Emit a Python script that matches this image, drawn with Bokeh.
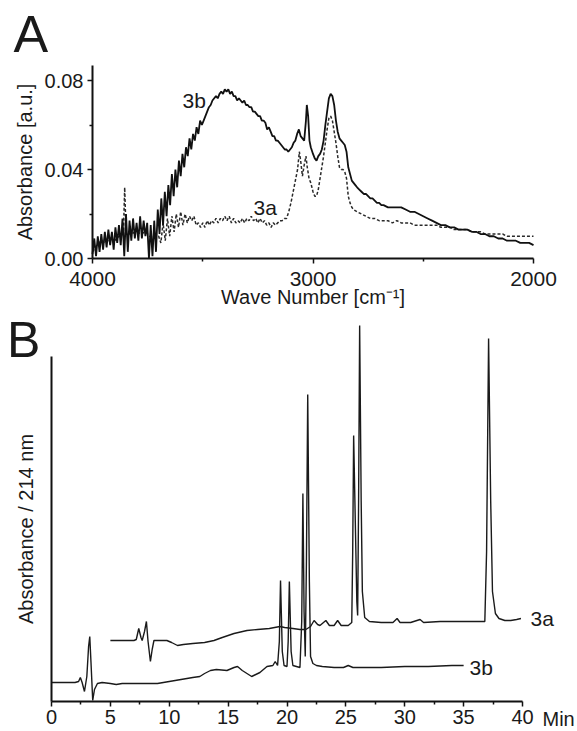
from bokeh.plotting import figure
from bokeh.models import Range1d, FixedTicker, PrintfTickFormatter, Label
from bokeh.layouts import column
from bokeh.embed import file_html
from bokeh.resources import INLINE

FONT = "Liberation Sans"

# ---------------- Panel A: IR spectra ----------------
ir_wn_3b = [4000, 3992, 3984, 3976, 3968, 3960, 3952, 3944, 3936, 3928, 3920, 3912, 3904, 3896,
            3888, 3880, 3872, 3864, 3856, 3848, 3840, 3832, 3824, 3816, 3808, 3800, 3792, 3784,
            3776, 3768, 3760, 3752, 3744, 3736, 3728, 3720, 3712, 3704, 3696, 3688, 3680, 3672,
            3664, 3656, 3648, 3640, 3632, 3624, 3616, 3608, 3600, 3592, 3584, 3576, 3568, 3560,
            3552, 3544, 3536, 3528, 3520, 3512, 3504, 3496, 3488, 3480, 3472, 3464, 3456, 3448,
            3440, 3432, 3424, 3416, 3408, 3400, 3392, 3384, 3376, 3368, 3360, 3352, 3344, 3336,
            3328, 3320, 3312, 3304, 3296, 3288, 3280, 3272, 3264, 3256, 3248, 3240, 3232, 3224,
            3216, 3208, 3200, 3192, 3184, 3176, 3168, 3160, 3152, 3144, 3136, 3128, 3120, 3112,
            3104, 3096, 3088, 3080, 3072, 3064, 3056, 3048, 3040, 3032, 3028, 3022, 3016, 3010,
            3000, 2992, 2984, 2976, 2968, 2960, 2952, 2944, 2936, 2928, 2920, 2912, 2904, 2896,
            2888, 2880, 2872, 2864, 2856, 2848, 2840, 2832, 2824, 2816, 2808, 2800, 2790, 2780,
            2770, 2760, 2750, 2740, 2730, 2720, 2710, 2700, 2690, 2680, 2660, 2640, 2620, 2600,
            2580, 2560, 2540, 2520, 2500, 2480, 2460, 2440, 2420, 2400, 2380, 2360, 2340, 2320,
            2300, 2280, 2260, 2240, 2220, 2200, 2180, 2160, 2140, 2120, 2100, 2080, 2060, 2040,
            2020, 2000]
ir_abs_3b = [0.002, 0.009, 0.001, 0.010, 0.003, 0.011, 0.004, 0.012, 0.005, 0.013, 0.006, 0.012,
             0.004, 0.014, 0.007, 0.015, 0.006, 0.018, 0.001, 0.020, 0.003, 0.017, 0.008, 0.018,
             0.009, 0.016, 0.008, 0.019, 0.009, 0.017, 0.010, 0.016, 0.000, 0.015, 0.001, 0.017,
             0.003, 0.022, 0.011, 0.027, 0.015, 0.030, 0.019, 0.033, 0.024, 0.038, 0.028, 0.040,
             0.032, 0.044, 0.037, 0.047, 0.041, 0.050, 0.046, 0.054, 0.049, 0.056, 0.053, 0.059,
             0.056, 0.062, 0.060, 0.062, 0.064, 0.066, 0.068, 0.069, 0.071, 0.072, 0.073, 0.072,
             0.074, 0.075, 0.074, 0.076, 0.075, 0.076, 0.074, 0.075, 0.073, 0.073, 0.071, 0.072,
             0.071, 0.070, 0.071, 0.069, 0.069, 0.068, 0.068, 0.066, 0.066, 0.065, 0.064, 0.064,
             0.062, 0.062, 0.061, 0.058, 0.059, 0.057, 0.055, 0.055, 0.053, 0.053, 0.052, 0.051,
             0.050, 0.049, 0.049, 0.048, 0.049, 0.050, 0.052, 0.053, 0.056, 0.058, 0.055, 0.054,
             0.053, 0.062, 0.069, 0.064, 0.053, 0.050, 0.047, 0.045, 0.044, 0.046, 0.047, 0.049,
             0.053, 0.060, 0.066, 0.072, 0.074, 0.073, 0.069, 0.062, 0.057, 0.054, 0.053, 0.052,
             0.051, 0.048, 0.041, 0.038, 0.035, 0.034, 0.033, 0.032, 0.031, 0.030, 0.029, 0.029,
             0.028, 0.027, 0.027, 0.026, 0.025, 0.025, 0.024, 0.024, 0.023, 0.023, 0.023, 0.023,
             0.022, 0.021, 0.021, 0.020, 0.019, 0.018, 0.017, 0.016, 0.015, 0.015, 0.014, 0.014,
             0.013, 0.013, 0.013, 0.012, 0.012, 0.011, 0.011, 0.010, 0.010, 0.009, 0.009, 0.008,
             0.008, 0.008, 0.007, 0.007, 0.007, 0.006]

ir_wn_3a = [4000, 3980, 3960, 3940, 3920, 3900, 3880, 3860, 3854, 3848, 3830, 3800, 3780, 3760,
            3740, 3720, 3700, 3690, 3680, 3670, 3660, 3650, 3640, 3630, 3620, 3610, 3600, 3590,
            3580, 3570, 3560, 3550, 3540, 3530, 3520, 3510, 3500, 3490, 3480, 3470, 3460, 3450,
            3440, 3430, 3420, 3410, 3400, 3390, 3380, 3370, 3360, 3350, 3340, 3330, 3320, 3310,
            3300, 3290, 3280, 3270, 3260, 3250, 3240, 3230, 3220, 3210, 3200, 3190, 3180, 3170,
            3160, 3150, 3140, 3130, 3120, 3110, 3100, 3090, 3080, 3070, 3062, 3056, 3048, 3040,
            3032, 3026, 3018, 3010, 3000, 2992, 2984, 2976, 2968, 2960, 2952, 2944, 2936, 2928,
            2920, 2912, 2904, 2896, 2888, 2880, 2872, 2864, 2856, 2848, 2840, 2832, 2824, 2816,
            2800, 2780, 2760, 2740, 2720, 2700, 2680, 2660, 2640, 2620, 2600, 2580, 2560, 2540,
            2520, 2500, 2480, 2460, 2440, 2420, 2400, 2380, 2360, 2340, 2320, 2300, 2280, 2260,
            2240, 2220, 2200, 2180, 2160, 2140, 2120, 2100, 2080, 2060, 2040, 2020, 2000]
ir_abs_3a = [0.003, 0.006, 0.008, 0.007, 0.009, 0.008, 0.010, 0.011, 0.032, 0.012, 0.011, 0.012,
             0.011, 0.012, 0.010, 0.009, 0.010, 0.007, 0.016, 0.008, 0.018, 0.010, 0.019, 0.012,
             0.020, 0.014, 0.021, 0.015, 0.020, 0.016, 0.019, 0.017, 0.019, 0.015, 0.016, 0.014,
             0.016, 0.014, 0.017, 0.015, 0.017, 0.016, 0.018, 0.016, 0.018, 0.017, 0.019, 0.017,
             0.019, 0.016, 0.018, 0.016, 0.017, 0.016, 0.018, 0.016, 0.018, 0.017, 0.019, 0.017,
             0.018, 0.016, 0.018, 0.016, 0.017, 0.015, 0.016, 0.014, 0.016, 0.015, 0.016, 0.017,
             0.017, 0.018, 0.018, 0.021, 0.025, 0.030, 0.035, 0.040, 0.048, 0.044, 0.037, 0.042,
             0.046, 0.041, 0.036, 0.034, 0.030, 0.028, 0.028, 0.031, 0.036, 0.041, 0.046, 0.052,
             0.058, 0.063, 0.064, 0.062, 0.057, 0.052, 0.046, 0.041, 0.040, 0.040, 0.039, 0.036,
             0.028, 0.025, 0.023, 0.022, 0.021, 0.020, 0.019, 0.018, 0.018, 0.017, 0.017, 0.017,
             0.016, 0.017, 0.016, 0.016, 0.016, 0.015, 0.015, 0.015, 0.015, 0.015, 0.015, 0.014,
             0.014, 0.014, 0.013, 0.013, 0.013, 0.013, 0.012, 0.012, 0.012, 0.011, 0.011, 0.011,
             0.011, 0.011, 0.010, 0.010, 0.010, 0.010, 0.010, 0.010, 0.010]

ir_xticks = [4000, 3000, 2000]
ir_xminor = [3500, 2500]
ir_yticks = [0.0, 0.04, 0.08]
ir_yminor = [0.02, 0.06]

# ---------------- Panel B: HPLC traces ----------------
hplc_t_3a = [5.0, 6.0, 7.0, 7.2, 7.41, 7.6, 7.7, 7.9, 8.06, 8.2, 8.4, 8.55, 8.7, 9.0, 9.8, 10.2,
             10.7, 11.2, 12.0, 13.0, 13.8, 14.5, 15.5, 16.6, 17.5, 18.5, 19.4, 19.8, 20.5, 21.1,
             21.6, 22.0, 22.3, 22.6, 22.8, 23.3, 23.6, 24.0, 24.3, 24.6, 25.2, 25.5, 25.58, 25.66,
             25.8, 25.93, 26.0, 26.08, 26.17, 26.3, 26.4, 26.6, 27.0, 28.0, 29.0, 29.35, 29.6,
             30.5, 31.3, 31.6, 33.0, 35.0, 36.8, 36.95, 37.12, 37.3, 37.45, 37.7, 38.0, 38.5,
             39.0, 39.5, 39.87]
hplc_a_3a = [61, 61, 61, 62, 73, 64, 61, 70, 80, 60, 40, 52, 61, 61, 61, 59,
             56, 57, 58, 59, 61, 64, 68, 71, 72, 73, 75, 74, 73, 72,
             72, 75, 81, 77, 76, 81, 76, 76, 81, 76, 76, 79, 150, 266,
             180, 100, 86, 200, 376, 200, 110, 84, 80, 79, 79, 83, 79,
             79, 82, 79, 80, 80, 80, 150, 363, 200, 110, 88, 83, 81,
             81, 82, 83]

hplc_t_3b = [0.0, 1.0, 2.0, 2.3, 2.45, 2.6, 2.8, 3.0, 3.15, 3.25, 3.35, 3.5, 3.65, 3.9, 4.3,
             5.0, 5.5, 6.0, 7.0, 8.0, 9.0, 10.0, 11.0, 12.0, 12.6, 13.0, 13.5, 14.0, 14.9, 15.5,
             15.8, 16.2, 17.0, 17.7, 18.3, 18.8, 19.0, 19.2, 19.35, 19.45, 19.6, 19.75, 20.0,
             20.1, 20.2, 20.35, 20.5, 20.8, 21.1, 21.25, 21.35, 21.45, 21.55, 21.65, 21.76, 21.9,
             22.0, 22.2, 22.5, 23.0, 24.0, 24.8, 25.2, 25.6, 26.0, 27.0, 28.0, 30.0, 32.0, 34.0,
             35.0]
hplc_a_3b = [19, 19, 19, 20, 24, 19, 10, 25, 55, 65, 40, 1, 12, 18, 19,
             18, 17, 18, 18, 18, 18, 20, 22, 24, 25, 28, 31, 32, 31, 34,
             35, 31, 25, 29, 35, 36, 40, 36, 60, 121, 50, 36, 35,
             60, 120, 50, 36, 35, 34, 80, 208, 90, 45, 140, 307, 120,
             45, 38, 36, 35, 34, 34, 36, 34, 34, 34, 34, 35, 35, 36,
             36]

hplc_xticks = [0, 5, 10, 15, 20, 25, 30, 35, 40]
hplc_xminor = [2.5, 7.5, 12.5, 17.5, 22.5, 27.5, 32.5, 37.5]

# ---------------- layout constants (pixels) ----------------
W = 577
A_H, B_H = 312, 419
A_PX_PER_WN = 441 / 2000.0      # 4000 -> x=92, 2000 -> x=533
A_X4000 = 92
A_Y0, A_PX_PER_ABS = 258, 89 / 0.04
B_X0, B_PX_PER_MIN = 51, 471 / 40.0
B_Y0 = 389


def style_axis(ax):
    ax.axis_line_width = 2
    ax.axis_line_color = "#111111"
    ax.major_tick_line_width = 1.5
    ax.minor_tick_line_width = 1.5
    ax.major_tick_line_color = "#111111"
    ax.minor_tick_line_color = "#111111"
    ax.major_tick_in = 0
    ax.major_tick_out = 5
    ax.minor_tick_in = 0
    ax.minor_tick_out = 3
    ax.major_label_text_font = FONT
    ax.major_label_text_font_size = "20px"
    ax.major_label_text_color = "#1a1a1a"
    ax.axis_label_text_font = FONT
    ax.axis_label_text_font_size = "20px"
    ax.axis_label_text_font_style = "normal"
    ax.axis_label_text_color = "#1a1a1a"


def label(p, x, y, text, size="20px"):
    p.add_layout(Label(x=x, y=y, text=text, text_font=FONT, text_font_size=size,
                       text_color="#1a1a1a", text_baseline="alphabetic", text_align="left"))


def base_fig(h, xr, yr):
    p = figure(width=W, height=h, title=None, x_range=xr, y_range=yr,
               output_backend="svg", toolbar_location=None,
               min_border_left=0, min_border_right=0, min_border_top=0, min_border_bottom=0)
    p.grid.visible = False
    p.outline_line_color = None
    p.background_fill_color = "white"
    p.border_fill_color = "white"
    return p


# ---- figure A ----
pA = base_fig(A_H,
              Range1d(4000 + A_X4000 / A_PX_PER_WN, 4000 - (W - A_X4000) / A_PX_PER_WN),
              Range1d(-(A_H - A_Y0) / A_PX_PER_ABS, A_Y0 / A_PX_PER_ABS))

pA.line(ir_wn_3a, ir_abs_3a, line_color="#2a2a2a", line_width=1.5, line_dash="3 2")
pA.line(ir_wn_3b, ir_abs_3b, line_color="#111111", line_width=1.8)

xa = pA.xaxis[0]
style_axis(xa)
xa.fixed_location = 0
xa.bounds = (2000, 4000)
xa.ticker = FixedTicker(ticks=ir_xticks, minor_ticks=ir_xminor)
xa.axis_label = "Wave Number [cm\u207b\u00b9]"
xa.major_label_text_font_size = "21px"
xa.major_label_standoff = 8
xa.axis_label_standoff = -3

ya = pA.yaxis[0]
style_axis(ya)
ya.fixed_location = 4000
ya.bounds = (0, 0.0867)
ya.ticker = FixedTicker(ticks=ir_yticks, minor_ticks=ir_yminor)
ya.formatter = PrintfTickFormatter(format="%.2f")
ya.axis_label = "Absorbance [a.u.]"
ya.major_label_standoff = 4
ya.axis_label_standoff = 6

label(pA, 4358, 0.1009, "A", "52px")
label(pA, 3592, 0.0710, "3b", "21px")
label(pA, 3270, 0.0227, "3a", "21px")

# ---- figure B ----
pB = base_fig(B_H,
              Range1d(-B_X0 / B_PX_PER_MIN, (W - B_X0) / B_PX_PER_MIN),
              Range1d(-(B_H - B_Y0), B_Y0))

pB.line(hplc_t_3a, hplc_a_3a, line_color="#1a1a1a", line_width=1.4)
pB.line(hplc_t_3b, hplc_a_3b, line_color="#1a1a1a", line_width=1.4)

xb = pB.xaxis[0]
style_axis(xb)
xb.fixed_location = 0
xb.bounds = (0, 40)
xb.ticker = FixedTicker(ticks=hplc_xticks, minor_ticks=hplc_xminor)
xb.major_label_standoff = 3

yb = pB.yaxis[0]
style_axis(yb)
yb.fixed_location = 0
yb.bounds = (0, 345)
yb.ticker = FixedTicker(ticks=[], minor_ticks=[])
yb.axis_label = "Absorbance / 214 nm"
yb.axis_label_standoff = 15

label(pB, -3.78, 362, "B", "50px")
label(pB, 40.68, 83, "3a", "21px")
label(pB, 35.5, 34, "3b", "21px")
label(pB, 41.7, -17, "Min", "20px")

layout = column(pA, pB, spacing=0)
open("out.html", "w").write(file_html(layout, INLINE))
